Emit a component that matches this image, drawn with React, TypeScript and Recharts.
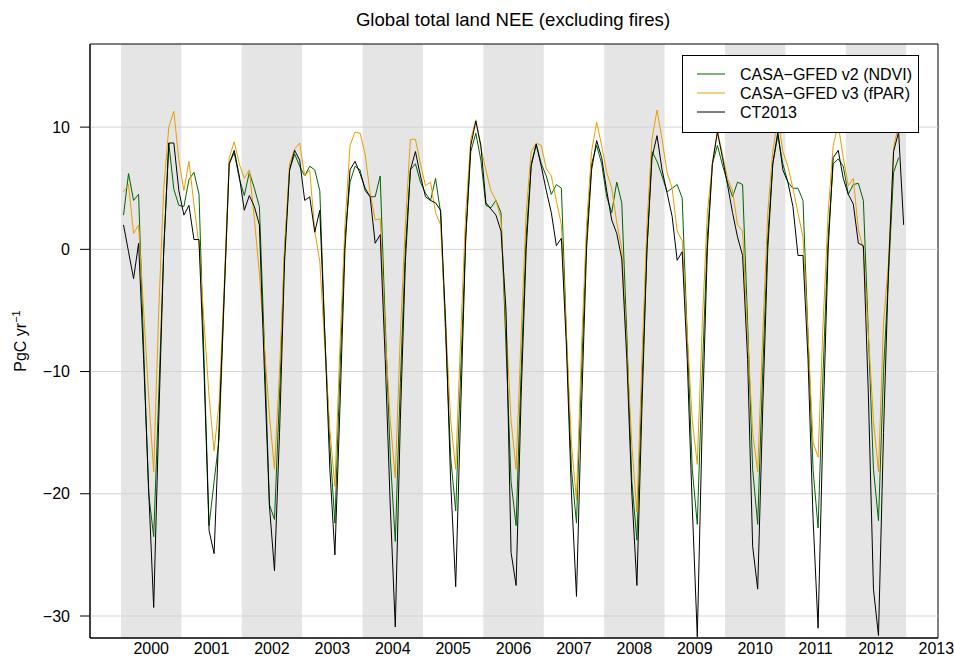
import React from 'react';
import { LineChart, Line, XAxis, YAxis, ReferenceArea, ReferenceLine } from 'recharts';

// Monthly values, Jan 2000 .. Dec 2012 (PgC/yr)
const ct2013 = [
  2.0, -0.2, -2.4, 0.5, -9.0, -19.6, -29.3, -14.0, 0.0, 8.7, 8.7, 4.8,
  2.8, 3.6, 0.8, 0.8, -10.0, -23.0, -24.9, -14.3, -3.7, 7.0, 8.1, 6.0,
  3.2, 4.4, 3.5, 2.0, -10.0, -21.0, -26.3, -15.0, -1.0, 6.5, 8.1, 7.3,
  4.0, 4.3, 1.4, 3.2, -7.0, -18.0, -25.0, -13.0, 0.0, 6.5, 7.2, 6.2,
  5.0, 4.3, 0.5, 1.2, -9.0, -21.0, -30.9, -14.0, -1.0, 6.5, 8.0, 6.0,
  4.3, 4.0, 3.8, 3.2, -6.0, -19.0, -27.6, -13.0, 1.0, 8.5, 10.5, 8.5,
  3.8, 3.3, 2.8, 1.5, -5.0, -24.8, -27.5, -12.0, 0.0, 6.8, 8.6, 6.8,
  4.8, 3.0, 0.3, 0.9, -8.0, -20.0, -28.4, -13.0, 0.0, 6.5, 8.9, 7.5,
  4.8, 2.4, 1.3, -0.8, -9.0, -20.0, -27.5, -13.0, 0.0, 7.5, 9.3, 6.5,
  4.6, 2.7, -0.9, -0.2, -9.0, -21.0, -31.7, -14.0, 0.0, 7.0, 9.6, 7.5,
  5.3, 3.0, 1.0, -0.5, -9.0, -24.3, -27.8, -13.0, 0.0, 7.0, 9.6, 6.5,
  5.5, 3.5, -0.5, -0.5, -9.0, -22.0, -31.0, -14.0, 0.0, 7.5, 8.1, 5.8,
  4.5, 3.7, 0.5, 0.3, -12.0, -27.8, -31.6, -15.0, -1.5, 8.0, 9.6, 2.0,
];

const casaV2 = [
  2.8, 6.2, 4.0, 4.5, -8.0, -20.0, -23.5, -12.0, 0.0, 8.7, 4.9, 3.6,
  3.5, 5.7, 6.3, 4.5, -9.0, -22.6, -19.0, -15.5, -4.0, 7.0, 7.9, 5.8,
  4.4, 6.3, 5.0, 3.5, -8.0, -20.9, -22.1, -12.0, 0.0, 6.5, 7.8, 6.8,
  6.0, 6.8, 6.5, 4.8, -7.0, -16.0, -22.4, -10.0, 1.0, 5.5, 6.8, 6.5,
  4.8, 4.3, 4.3, 6.0, -6.0, -17.0, -23.9, -11.0, 0.0, 6.5, 7.0, 5.5,
  4.6, 4.0, 5.8, 3.0, -7.0, -17.0, -21.4, -10.0, 1.0, 8.0, 9.5, 7.3,
  3.6, 3.4, 4.0, 3.0, -8.0, -19.0, -22.6, -10.0, 1.0, 7.0, 8.6, 7.0,
  6.0, 4.5, 5.3, 5.0, -7.0, -18.0, -22.4, -10.0, 1.0, 7.0, 8.5, 7.0,
  4.3, 3.0, 5.5, 3.8, -7.0, -19.0, -23.8, -11.0, 0.0, 8.0, 7.2, 6.0,
  4.7, 5.0, 5.3, 4.2, -7.0, -18.0, -22.5, -10.0, 1.0, 7.0, 8.5, 6.9,
  5.5, 4.3, 5.5, 5.3, -6.0, -18.0, -22.5, -10.0, 1.0, 7.0, 9.3, 7.0,
  5.5, 5.0, 5.0, 4.0, -7.0, -18.0, -22.8, -10.0, 1.0, 7.0, 7.4, 6.8,
  4.5, 5.3, 5.4, 4.0, -7.0, -18.0, -22.2, -10.0, -2.0, 6.3, 7.5,
];

const casaV3 = [
  4.7, 5.3, 1.3, 2.0, -5.0, -12.0, -18.2, -5.0, 5.0, 10.0, 11.3, 7.3,
  4.8, 7.2, 3.7, 0.3, -6.0, -12.0, -16.5, -12.5, -3.0, 7.5, 8.8, 7.0,
  5.8, 6.5, 2.5, -2.0, -8.0, -13.6, -18.0, -10.0, 0.0, 7.0, 8.2, 8.7,
  6.0, 6.5, 1.5, -1.0, -8.0, -14.8, -19.4, -8.0, 2.0, 8.5, 9.6, 9.5,
  7.8, 4.6, 2.4, 2.5, -7.0, -14.0, -18.7, -7.0, 2.0, 9.0, 9.0, 7.0,
  5.2, 5.5, 3.0, 2.0, -6.0, -14.0, -18.0, -7.0, 3.0, 9.0, 10.6, 8.3,
  6.5, 4.8, 4.0, 2.5, -6.0, -14.0, -18.0, -7.0, 3.0, 8.0, 8.7, 8.5,
  6.6, 6.0, 4.0, 2.0, -7.0, -16.0, -20.5, -8.0, 2.0, 8.0, 10.4, 8.5,
  6.3, 5.0, 2.2, 0.0, -8.0, -16.0, -21.5, -9.0, 2.0, 9.0, 11.4, 9.0,
  6.3, 5.0, 1.5, 0.7, -7.0, -14.0, -17.6, -6.0, 3.0, 7.0, 9.7, 7.8,
  5.8, 4.8, 2.0, 1.5, -7.0, -15.0, -18.2, -7.0, 3.0, 8.0, 10.8, 8.0,
  6.8, 5.0, 3.0, 1.0, -7.0, -15.8, -17.0, -6.0, 3.0, 8.5, 10.2, 7.5,
  5.2, 5.8, 1.6, 0.0, -7.0, -14.0, -18.2, -6.0, -1.0, 8.3, 10.3,
];

const startYear = 2000;
const yearLabels = [2000, 2001, 2002, 2003, 2004, 2005, 2006, 2007, 2008, 2009, 2010, 2011, 2012, 2013];
const shadedYears = [2000, 2002, 2004, 2006, 2008, 2010, 2012];
const yTicks = [-30, -20, -10, 0, 10];
const seriesNames = ['CASA\u2212GFED v2 (NDVI)', 'CASA\u2212GFED v3 (fPAR)', 'CT2013'];
const seriesColors = ['#006400', '#E69F00', '#000000'];
const title = 'Global total land NEE (excluding fires)';

const X_DOMAIN: [number, number] = [1999.487, 2013.527];
const Y_DOMAIN: [number, number] = [-31.8, 16.8];

const data = ct2013.map((v, i) => ({
  t: startYear + (i + 0.5) / 12,
  v2: i < casaV2.length ? casaV2[i] : null,
  v3: i < casaV3.length ? casaV3[i] : null,
  ct: v,
}));

const FONT = '"Liberation Sans", Arial, Helvetica, sans-serif';

export default function App() {
  return (
    <div style={{ position: 'absolute', left: 0, top: 0, width: 954, height: 657, background: '#fff' }}>
      <LineChart
        width={954}
        height={657}
        data={data}
        margin={{ top: 44, right: 16, bottom: 0, left: 0 }}
      >
        <XAxis
          dataKey="t"
          type="number"
          domain={X_DOMAIN}
          allowDataOverflow
          ticks={yearLabels.map((y) => y + 0.5)}
          tickFormatter={(v: number) => String(Math.floor(v))}
          interval={0}
          tickLine={false}
          tickSize={0}
          tickMargin={5}
          height={19}
          axisLine={{ stroke: '#000', strokeWidth: 1 }}
          tick={{ fill: '#000', fontSize: 16, fontFamily: FONT }}
        />
        <YAxis
          type="number"
          domain={Y_DOMAIN}
          allowDataOverflow
          ticks={yTicks}
          interval={0}
          width={90}
          tickSize={10}
          tickMargin={10}
          tickLine={{ stroke: '#000' }}
          axisLine={{ stroke: '#000', strokeWidth: 1 }}
          tickFormatter={(v: number) => String(v).replace('-', '\u2212')}
          tick={{ fill: '#000', fontSize: 16, fontFamily: FONT }}
        />
        {shadedYears.map((y) => (
          <ReferenceArea key={y} x1={y} x2={y + 1} fill="#E5E5E5" fillOpacity={1} stroke="none" ifOverflow="hidden" />
        ))}
        {yTicks.map((v) => (
          <ReferenceLine key={v} y={v} stroke="#D3D3D3" strokeWidth={1} />
        ))}
        <Line dataKey="v2" name={seriesNames[0]} stroke={seriesColors[0]} strokeWidth={1} dot={false} isAnimationActive={false} connectNulls={false} />
        <Line dataKey="v3" name={seriesNames[1]} stroke={seriesColors[1]} strokeWidth={1} dot={false} isAnimationActive={false} connectNulls={false} />
        <Line dataKey="ct" name={seriesNames[2]} stroke={seriesColors[2]} strokeWidth={1} dot={false} isAnimationActive={false} connectNulls={false} />
        <ReferenceArea
          x1={X_DOMAIN[0]}
          x2={X_DOMAIN[1]}
          y1={Y_DOMAIN[0]}
          y2={Y_DOMAIN[1]}
          fill="none"
          fillOpacity={0}
          stroke="#000"
          strokeWidth={1}
          ifOverflow="visible"
        />
      </LineChart>
      <svg
        width={954}
        height={657}
        style={{ position: 'absolute', left: 0, top: 0, pointerEvents: 'none' }}
      >
        <text x={513} y={19} dy="0.36em" textAnchor="middle" fontSize={18.6} fontFamily={FONT} fill="#000">
          {title}
        </text>
        <text
          transform="translate(26,341) rotate(-90)"
          textAnchor="middle"
          fontSize={16}
          fontFamily={FONT}
          fill="#000"
        >
          PgC yr
          <tspan dy="-6" fontSize={11}>{'\u22121'}</tspan>
        </text>
        <g transform="translate(682,55)">
          <rect x={0.5} y={0.5} width={236} height={77} fill="#ffffff" stroke="#000" strokeWidth={1} />
          {seriesNames.map((name, i) => (
            <g key={name}>
              <line x1={15} x2={43} y1={19 + i * 19} y2={19 + i * 19} stroke={seriesColors[i]} strokeWidth={1} />
              <text x={58} y={19 + i * 19} dy="0.36em" fontSize={16} fontFamily={FONT} fill="#000">
                {name}
              </text>
            </g>
          ))}
        </g>
      </svg>
    </div>
  );
}
